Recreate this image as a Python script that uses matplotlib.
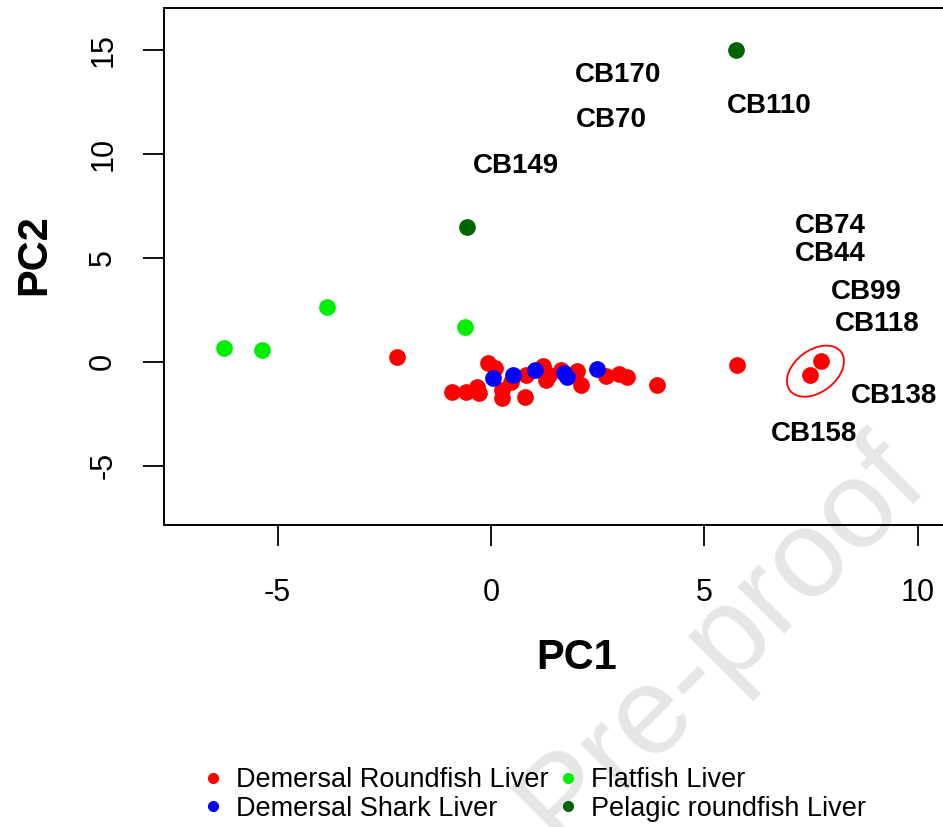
import matplotlib
matplotlib.use("Agg")
import matplotlib.pyplot as plt
import matplotlib.transforms as mtransforms
from matplotlib.patches import Ellipse
from matplotlib.lines import Line2D

plt.rcParams['font.family'] = ['Liberation Sans', 'DejaVu Sans']
plt.rcParams['axes.unicode_minus'] = False

# PCA scores
round_x = [-2.21, 5.77, 7.47, 7.72, -0.91, -0.58, -0.33, -0.28, -0.07, 0.09, 0.25, 0.25,
           0.48, 0.79, 0.83, 1.21, 1.30, 1.37, 1.64, 2.02, 2.11, 2.69, 3.00, 3.19, 3.88]
round_y = [0.24, -0.14, -0.63, 0.05, -1.43, -1.43, -1.19, -1.50, -0.06, -0.30, -1.35, -1.74,
           -0.95, -1.67, -0.63, -0.22, -0.87, -0.63, -0.38, -0.46, -1.10, -0.70, -0.58, -0.72, -1.10]
shark_x = [0.05, 0.51, 1.02, 1.72, 1.79, 2.49]
shark_y = [-0.80, -0.63, -0.38, -0.53, -0.72, -0.35]
flat_x = [-6.26, -5.37, -3.84, -0.60]
flat_y = [0.67, 0.58, 2.64, 1.68]
pelagic_x = [5.74, -0.56]
pelagic_y = [15.0, 6.49]

# loading labels
cb_names = ['CB170', 'CB70', 'CB149', 'CB110', 'CB74', 'CB44', 'CB99', 'CB118', 'CB138', 'CB158']
cb_x = [2.98, 2.81, 0.58, 6.51, 7.95, 7.95, 8.79, 9.05, 9.43, 7.56]
cb_y = [13.8, 11.6, 9.4, 12.3, 6.5, 5.2, 3.37, 1.83, -1.63, -3.46]

groups = ['Demersal Roundfish Liver', 'Demersal Shark Liver', 'Flatfish Liver', 'Pelagic roundfish Liver']
colors = ['#ff0000', '#0000ff', '#00ee00', '#006400']

fig = plt.figure(figsize=(9.43, 8.27), dpi=100)
ax = fig.add_axes([0.1739, 0.3652, 0.876, 0.6252])
ax.set_facecolor('none')

# watermark behind everything
fig.text(0.765, 0.225, 'Pre-proof', fontsize=90, color='#e6e6e6', rotation=45,
         ha='center', va='center', zorder=-1)

ax.scatter(round_x, round_y, s=145, color=colors[0], linewidths=0, zorder=3)
ax.scatter(shark_x, shark_y, s=145, color=colors[1], linewidths=0, zorder=3)
ax.scatter(flat_x, flat_y, s=145, color=colors[2], linewidths=0, zorder=3)
ax.scatter(pelagic_x, pelagic_y, s=145, color=colors[3], linewidths=0, zorder=3)

for name, x, y in zip(cb_names, cb_x, cb_y):
    ax.text(x, y, name, fontsize=20, fontweight='bold', ha='center', va='center')

# circle round the two outlying red points
trans = fig.dpi_scale_trans + mtransforms.ScaledTranslation(7.6, -0.45, ax.transData)
ax.add_patch(Ellipse((0, 0), 0.64, 0.42, angle=37, fill=False, edgecolor='red',
                     linewidth=1.3, transform=trans))

ax.set_xlim(-7.66, 11.69)
ax.set_ylim(-7.84, 17.0)
ax.set_xticks([-5, 0, 5, 10])
ax.set_yticks([-5, 0, 5, 10, 15])
ax.tick_params(length=15, width=1.3, labelsize=22, direction='out')
ax.tick_params(axis='x', pad=23)
ax.tick_params(axis='y', pad=18)
plt.setp(ax.get_yticklabels(), rotation=90, va='center')
for s in ax.spines.values():
    s.set_linewidth(1.4)
ax.spines['right'].set_visible(False)

ax.set_xlabel('PC1', fontsize=30, fontweight='bold', va='center')
ax.xaxis.set_label_coords(0.5, -0.258)
ax.set_ylabel('PC2', fontsize=30, fontweight='bold', va='center')
ax.yaxis.set_label_coords(-0.157, 0.522)

handles = [Line2D([], [], marker='o', linestyle='none', color=c, markersize=7) for c in colors]
fig.legend(handles, groups, loc='upper left', bbox_to_anchor=(0.2175, 0.0725), ncol=2,
           frameon=False, fontsize=19.5, handlelength=0.6, handletextpad=0.55,
           columnspacing=0.4, labelspacing=0.1, borderpad=0, borderaxespad=0)

fig.savefig('out.png', dpi=100)
